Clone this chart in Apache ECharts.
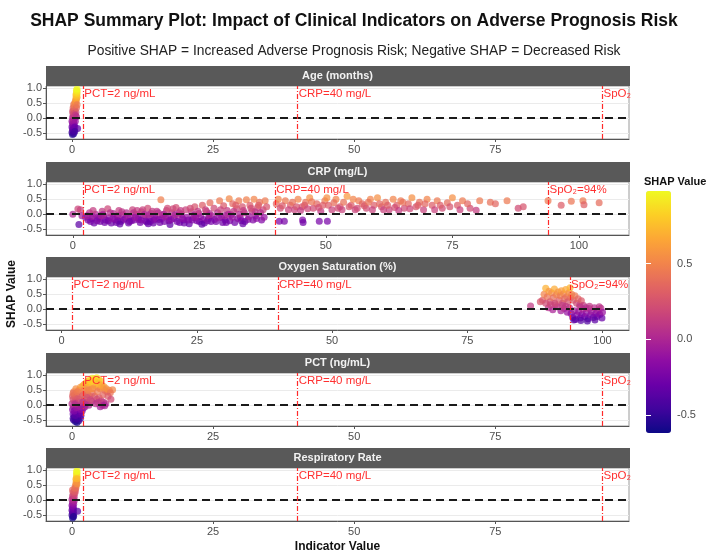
<!DOCTYPE html>
<html>
<head>
<meta charset="utf-8">
<script src="https://cdn.jsdelivr.net/npm/echarts@6/dist/echarts.min.js"></script>
<style>
  html, body { margin: 0; padding: 0; background: #fff; }
  #chart { width: 708px; height: 559px; }
</style>
</head>
<body>
<div id="chart"></div>
<script>
// facet titles, top to bottom
const panelNames = ['Age (months)', 'CRP (mg/L)', 'Oxygen Saturation (%)', 'PCT (ng/mL)', 'Respiratory Rate'];

// x ranges per facet (free x scales)
const xMins = [-4.6, -5.3, -2.9, -4.6, -4.6];
const xMaxs = [98.7, 109.9, 104.9, 98.7, 98.7];
const xTicks = [[0, 25, 50, 75], [0, 25, 50, 75, 100], [0, 25, 50, 75, 100], [0, 25, 50, 75], [0, 25, 50, 75]];
const yTicks = [-0.5, 0, 0.5, 1.0];
const legendTicks = [-0.5, 0, 0.5];

// clinical thresholds drawn in every facet
const thresholdValues = [2, 40, 94];
const thresholdLabels = ['PCT=2 ng/mL', 'CRP=40 mg/L', 'SpO₂=94%'];

// [indicator value, SHAP value]
const ageData = [
  [0.1,-0.55],[0.3,-0.52],[0.0,-0.48],[0.2,-0.45],[0.4,-0.42],[0.1,-0.38],[0.3,-0.33],[0.0,-0.3],
  [0.2,-0.26],[0.4,-0.22],[0.1,-0.18],[0.3,-0.14],[0.0,-0.1],[0.2,-0.06],[0.4,-0.02],[0.1,0.02],
  [0.3,0.06],[0.5,0.1],[0.2,0.14],[0.4,0.18],[0.1,0.22],[0.3,0.26],[0.5,0.3],[0.2,0.34],
  [0.4,0.38],[0.6,0.42],[0.3,0.46],[0.5,0.5],[0.7,0.54],[0.6,0.58],[0.8,0.62],[0.7,0.66],
  [0.9,0.7],[0.8,0.74],[0.7,0.78],[0.9,0.82],[0.8,0.86],[0.9,0.9],[0.8,0.94],[0.9,0.98],[1.0,-0.35],
  [0.7,0.2],[0.8,0.35],[0.9,0.45],[0.6,0.1],[0.8,0.05],[0.6,-0.1],[0.5,-0.3],[0.5,-0.45]
];

const crpData = [
  [0.0,0.0],[1.2,-0.35],[1.0,0.17],[1.5,0.15],[1.8,-0.05],
  [2.5,-0.1],[3.0,-0.2],[3.3,0.05],[3.8,-0.15],[4.2,-0.3],[4.5,0.0],[5.0,-0.1],[5.4,-0.25],
  [5.8,0.1],[6.1,-0.05],[6.5,-0.2],[6.9,0.18],[7.2,-0.12],[7.6,-0.3],[8.0,0.02],[8.3,-0.18],
  [8.8,-0.08],[9.1,0.12],[9.5,-0.25],[9.9,-0.02],[10.3,-0.15],[10.6,0.05],[11.0,-0.3],[11.4,-0.1],
  [11.8,0.15],[12.1,-0.2],[12.5,0.0],[12.9,-0.12],[13.3,-0.28],[13.6,0.08],[14.0,-0.05],[14.4,-0.22],
  [14.8,0.2],[15.1,-0.15],[15.5,0.02],[15.9,-0.3],[16.2,-0.08],[16.6,0.1],[17.0,-0.18],[17.4,0.48],
  [17.7,-0.02],[18.1,-0.25],[18.5,0.12],[18.9,-0.1],[19.2,-0.35],[19.6,0.05],[20.0,-0.15],[20.4,0.22],
  [20.8,-0.05],[21.1,-0.28],[21.5,0.0],[21.9,-0.2],[22.3,0.15],[22.6,-0.1],[23.0,-0.32],[23.4,0.08],
  [23.8,-0.12],[24.1,0.25],[24.5,-0.22],[24.9,0.02],[25.3,-0.08],[25.6,0.3],[26.0,-0.3],[26.4,0.1],
  [26.8,-0.15],[27.1,0.38],[27.5,-0.05],[27.9,0.2],[28.3,-0.25],[28.6,0.05],[29.0,0.45],[29.4,-0.1],
  [29.8,0.28],[30.1,-0.2],[30.5,0.12],[30.9,0.52],[31.3,-0.02],[31.6,0.35],[32.0,-0.28],[32.4,0.18],
  [32.8,0.45],[33.1,-0.12],[33.5,0.25],[33.9,0.05],[34.3,0.48],[34.6,-0.18],[35.0,0.3],[35.4,0.1],
  [35.8,0.5],[36.1,-0.05],[36.5,0.22],[36.9,0.4],[37.3,-0.2],[37.6,0.15],[38.0,0.45],
  [3.5,-0.25],[5.2,-0.15],[7.0,-0.22],[8.6,-0.28],[10.0,-0.2],[11.6,-0.22],[13.0,-0.18],[14.6,-0.26],
  [16.0,-0.2],[17.6,-0.15],[19.0,-0.22],[20.6,-0.25],[22.0,-0.3],[23.6,-0.2],[25.0,-0.25],[26.6,-0.22],
  [28.0,-0.18],[29.6,-0.28],[31.0,-0.22],[32.6,-0.15],[34.0,-0.25],[35.6,-0.2],[6.0,0.0],[9.0,-0.05],
  [12.0,0.05],[15.0,-0.02],[18.0,0.0],[21.0,0.05],[24.0,-0.03],[27.0,0.02],[30.0,-0.05],[33.0,0.0],
  [36.0,0.08],[4.0,0.12],[13.8,0.15],[19.8,0.18],[26.2,0.15],[31.8,0.1],
  [2.8,-0.05],[3.9,-0.08],[4.8,-0.22],[5.6,-0.05],[6.3,-0.28],[7.4,0.05],[7.9,-0.15],[8.9,-0.22],
  [9.7,0.08],[10.8,-0.08],[11.2,-0.25],[12.3,-0.1],[12.7,0.12],[13.5,-0.2],[14.2,0.0],[15.3,-0.25],
  [15.7,0.1],[16.4,-0.15],[16.9,0.05],[17.2,-0.28],[18.3,-0.08],[18.7,0.2],[19.4,-0.18],[20.2,-0.02],
  [21.3,0.12],[21.7,-0.15],[22.8,-0.2],[23.2,0.2],[24.3,-0.1],[24.7,0.1],[25.8,-0.18],[26.9,-0.05],
  [27.3,-0.25],[28.8,-0.12],[29.2,0.15],[30.3,-0.28],[30.7,0.0],[31.5,-0.1],[32.2,0.3],[33.3,-0.22],
  [33.7,0.12],[34.8,-0.08],[35.2,0.2],[36.3,-0.15],[36.7,0.3],[37.1,0.05],[37.8,-0.1],[38.3,0.25],
  [14.9,-0.32],[9.3,-0.33],[25.5,-0.34],[33.6,-0.32],
  [40.8,-0.24],[41.8,-0.24],[45.4,-0.2],[45.5,-0.28],[48.7,-0.24],[50.3,-0.24],
  [40.2,0.35],[41.0,0.2],[42.0,0.45],[43.0,0.3],[43.8,0.15],[44.5,0.5],[45.3,0.25],[46.0,0.4],
  [46.8,0.55],[47.5,0.2],[48.2,0.35],[49.0,0.1],[49.8,0.45],[50.5,0.3],[51.2,0.15],[52.0,0.5],
  [52.8,0.25],[53.5,0.4],[54.2,0.6],[55.0,0.3],[55.8,0.15],[56.5,0.45],[57.2,0.35],[58.0,0.2],
  [58.8,0.5],[59.5,0.3],[60.2,0.55],[61.0,0.25],[61.8,0.4],[62.5,0.15],[63.3,0.5],[64.0,0.3],
  [64.8,0.45],[65.5,0.2],[66.3,0.35],[67.0,0.55],[67.8,0.25],[68.5,0.4],[69.3,0.15],[70.0,0.5],
  [71.0,0.3],[72.0,0.45],[73.0,0.2],[74.0,0.38],[75.0,0.55],[76.0,0.3],[77.0,0.45],[78.5,0.2],
  [40.6,0.5],[41.4,0.28],[42.6,0.15],[43.4,0.4],[44.2,0.25],[45.0,0.12],[45.8,0.3],[46.4,0.18],
  [47.2,0.42],[48.6,0.22],[49.4,0.3],[50.2,0.55],[51.6,0.38],[52.4,0.2],[53.2,0.15],[54.6,0.25],
  [55.4,0.5],[56.2,0.2],[57.6,0.28],[58.4,0.4],[59.2,0.15],[60.6,0.35],[61.4,0.15],[62.2,0.3],
  [63.6,0.22],[64.4,0.12],[65.2,0.4],[66.6,0.18],[68.2,0.3],[69.6,0.35],[71.5,0.15],[72.6,0.3],
  [74.5,0.25],[76.5,0.15],[78.0,0.35],
  [80.4,0.45],[79.7,0.13],[82.5,0.4],[83.5,0.35],[85.8,0.45],[88.0,0.2],[89.0,0.25],
  [93.9,0.45],[96.5,0.3],[98.5,0.43],[100.8,0.45],[101.0,0.32],[104.0,0.38]
];

const oxygenData = [
  [86.7,0.11],
  [88.9,0.3],[89.2,0.5],[89.5,0.7],[89.8,0.42],[90.1,0.6],[90.3,0.25],[90.6,0.55],[90.9,0.38],
  [91.1,0.68],[91.3,0.15],[91.5,0.48],[91.8,0.58],[92.0,0.3],[92.2,0.45],[92.4,0.62],[92.6,0.2],
  [92.8,0.52],[93.0,0.35],[93.2,0.66],[93.4,0.42],[93.6,0.25],[93.8,0.55],[94.0,0.72],[94.1,0.38],
  [94.3,0.5],[94.6,0.3],[94.9,0.45],[95.2,0.2],[95.5,0.35],[95.8,0.15],[96.1,0.28],[96.5,0.12],
  [90.0,0.05],[90.8,-0.02],[91.6,0.08],[92.3,-0.05],[92.9,0.02],[93.5,-0.1],[93.9,0.05],[94.2,-0.15],
  [94.5,-0.28],[94.8,-0.05],[95.0,-0.35],[95.3,-0.2],[95.6,-0.08],[95.9,-0.3],[96.2,-0.18],[96.4,0.0],
  [96.7,-0.25],[97.0,-0.12],[97.3,-0.32],[97.5,0.02],[97.8,-0.2],[98.0,-0.08],[98.3,-0.28],[98.5,0.05],
  [98.8,-0.15],[99.0,-0.25],[99.2,-0.05],[99.5,-0.18],[99.7,0.03],[99.9,-0.3],[100.0,-0.1],[96.0,-0.38],
  [97.2,-0.4],[98.6,-0.36],[94.7,-0.36],[95.8,0.08],[97.6,0.1],[96.9,0.05],[99.4,0.08],[93.2,0.1],
  [92.6,0.12],[91.2,0.2],[90.4,0.15],[89.5,0.2],[88.5,0.25]
];

const pctData = [
  [0.3,-0.5],[0.6,-0.55],[0.9,-0.58],[1.2,-0.52],[1.5,-0.45],[0.4,-0.4],[0.8,-0.42],[1.1,-0.38],
  [1.6,-0.35],[0.2,-0.3],[0.5,-0.28],[1.0,-0.25],[1.4,-0.22],[1.8,-0.2],[0.1,-0.15],[0.7,-0.12],
  [1.3,-0.1],[0.3,-0.05],[0.9,-0.02],[1.7,0.0],[0.0,0.05],[0.5,0.1],[1.1,0.12],[0.2,0.2],
  [0.6,0.25],[0.1,0.3],[0.4,0.35],[0.8,0.4],[0.3,0.45],[1.2,0.5],[0.7,0.55],[1.5,0.6],
  [1.9,0.65],[2.2,0.7],[2.5,0.75],[2.8,0.8],[3.2,0.85],[3.6,0.9],[4.0,0.88],[4.4,0.92],
  [4.8,0.85],[5.1,0.8],[3.0,0.6],[3.4,0.55],[3.8,0.7],[4.2,0.65],[4.6,0.6],[5.0,0.55],
  [5.4,0.6],[5.8,0.5],[6.2,0.45],[6.6,0.5],[7.2,0.52],[2.4,0.45],[2.8,0.35],[3.2,0.3],
  [3.6,0.4],[4.0,0.3],[4.4,0.2],[4.8,0.25],[5.2,0.15],[5.6,0.1],[6.0,0.05],[2.2,0.2],
  [2.6,0.1],[3.0,0.0],[3.5,0.12],[4.2,0.05],[5.0,-0.05],[5.4,0.0],[2.0,-0.1],[2.4,0.05],
  [0.2,-0.45],[0.7,-0.48],[1.0,-0.45],[1.3,-0.3],[0.6,-0.35],[1.6,-0.15],[0.4,-0.2],[0.8,-0.08],
  [1.5,-0.05],[0.6,0.05],[1.3,0.2],[0.9,0.3],[0.2,0.4],[1.0,0.45],[1.8,0.3],[2.1,0.5],
  [2.6,0.6],[3.0,0.75],[3.4,0.8],[3.9,0.82],[4.3,0.78],[4.7,0.72],[5.3,0.68],[5.7,0.62],
  [6.1,0.55],[6.8,0.42],[2.0,0.35],[2.9,0.5],[3.7,0.55],[4.5,0.45],[5.5,0.35],[6.4,0.3],
  [6.9,0.2],[2.7,0.25],[3.3,0.18],[4.6,0.1],[5.8,-0.02],[1.9,0.1],[2.3,-0.05]
];

const respData = [
  [0.1,-0.6],[0.2,-0.55],[0.0,-0.5],[0.3,-0.46],[0.1,-0.42],[0.2,-0.38],[0.0,-0.34],[0.3,-0.3],
  [0.1,-0.26],[0.2,-0.22],[0.0,-0.18],[0.3,-0.14],[0.1,-0.1],[0.2,-0.06],[0.4,-0.02],[0.0,0.02],
  [0.2,0.06],[0.4,0.1],[0.1,0.14],[0.3,0.18],[0.5,0.22],[0.2,0.26],[0.4,0.3],[0.1,0.34],
  [0.6,0.38],[0.7,0.42],[0.6,0.48],[0.8,0.52],[0.7,0.58],[0.8,0.62],[0.9,0.66],[0.7,0.7],
  [0.8,0.75],[0.9,0.8],[0.8,0.85],[0.9,0.9],[0.8,0.95],[0.9,0.99],[1.0,-0.37],
  [0.6,0.3],[0.5,0.4],[0.9,0.55],[0.9,0.72],[0.3,-0.55]
];

const panelData = [ageData, crpData, oxygenData, pctData, respData];

const plasma = ['#0d0887', '#41049d', '#6a00a8', '#8f0da4', '#b12a90', '#cc4778',
                '#e16462', '#f2844b', '#fca636', '#fcce25', '#f0f921'];

const FONT = 'Liberation Sans, Arial, sans-serif';
const tops = [86, 182, 277, 373, 468];
const PANEL_H = 53;
const LEFT = 46;
const WIDTH = 583;

const chart = echarts.init(document.getElementById('chart'), null, { renderer: 'canvas' });

const grids = [];
const xAxes = [];
const yAxes = [];
const series = [];
const graphics = [];

panelNames.forEach((name, i) => {
  grids.push({
    left: LEFT, width: WIDTH, top: tops[i], height: PANEL_H,
    show: true, borderColor: '#9a9a9a', borderWidth: 1, backgroundColor: '#fff'
  });
  xAxes.push({
    gridIndex: i, type: 'value', min: xMins[i], max: xMaxs[i],
    axisLine: { show: true, onZero: false, lineStyle: { color: '#555', width: 1 } },
    axisTick: { show: true, length: 3, customValues: xTicks[i], lineStyle: { color: '#555' } },
    axisLabel: { customValues: xTicks[i], color: '#4d4d4d', fontSize: 11, fontFamily: FONT, margin: 5 },
    splitLine: { show: false },
    name: i === 4 ? 'Indicator Value' : '',
    nameLocation: 'middle', nameGap: 20,
    nameTextStyle: { color: '#111', fontSize: 12, fontWeight: 'bold', fontFamily: FONT }
  });
  yAxes.push({
    gridIndex: i, type: 'value', min: -0.7, max: 1.08,
    axisLine: { show: true, onZero: false, lineStyle: { color: '#555', width: 1 } },
    axisTick: { show: true, length: 3, customValues: yTicks, lineStyle: { color: '#555' } },
    axisLabel: {
      customValues: yTicks, color: '#4d4d4d', fontSize: 11, fontFamily: FONT, margin: 4,
      formatter: v => v.toFixed(1)
    },
    splitLine: { show: true, lineStyle: { color: '#ebebeb', width: 1 } }
  });

  const clipSpO2 = xMaxs[i] < 100;
  series.push({
    type: 'scatter',
    xAxisIndex: i, yAxisIndex: i,
    data: panelData[i],
    symbolSize: 7,
    itemStyle: { opacity: 0.72 },
    markLine: {
      silent: true, symbol: 'none', animation: false,
      label: { show: false },
      data: [
        { yAxis: 0, lineStyle: { color: '#1a1a1a', type: [8, 5], width: 1.8 } },
        ...thresholdValues.map(v => ({
          xAxis: v, lineStyle: { color: '#ff2a2a', type: [5, 2, 1, 2], width: 1.2 }
        }))
      ]
    },
    markPoint: {
      silent: true, symbol: 'circle', symbolSize: 0, animation: false,
      data: thresholdValues.map((v, k) => ({
        coord: [v, 0.83],
        label: {
          show: true, position: 'right', distance: 1,
          formatter: thresholdLabels[k],
          color: '#ff3030', fontSize: 11.5, fontFamily: FONT,
          ...(k === 2 && clipSpO2 ? { width: 29, overflow: 'truncate', ellipsis: '' } : {})
        }
      }))
    }
  });

  graphics.push({
    type: 'rect', left: LEFT, top: tops[i] - 20,
    shape: { width: WIDTH + 1, height: 20 },
    style: { fill: '#595959' }, z: 10
  });
  graphics.push({
    type: 'text', x: LEFT + WIDTH / 2, y: tops[i] - 10,
    style: {
      text: name, fill: '#f2f2f2', font: 'bold 11px ' + FONT,
      textAlign: 'center', textVerticalAlign: 'middle'
    }, z: 11
  });
});

// colour bar axis (ticks and labels beside the visualMap bar)
grids.push({ left: 646, width: 25, top: 191, height: 242, show: false });
xAxes.push({ gridIndex: 5, type: 'value', show: false, min: 0, max: 1 });
yAxes.push({
  gridIndex: 5, type: 'value', min: -0.62, max: 0.98, position: 'right', z: 10,
  axisLine: { show: false },
  axisTick: { show: true, inside: true, length: 5, customValues: legendTicks, lineStyle: { color: '#fff', width: 1 } },
  axisLabel: { customValues: legendTicks, color: '#4d4d4d', fontSize: 11, fontFamily: FONT, margin: 6,
               formatter: v => v.toFixed(1) },
  splitLine: { show: false }
});
yAxes.push({
  gridIndex: 5, type: 'value', min: -0.62, max: 0.98, position: 'left', z: 10,
  axisLine: { show: false },
  axisTick: { show: true, inside: true, length: 5, customValues: legendTicks, lineStyle: { color: '#fff', width: 1 } },
  axisLabel: { show: false },
  splitLine: { show: false }
});
series.push({ type: 'scatter', xAxisIndex: 5, yAxisIndex: 5, data: [], silent: true });

graphics.push({
  type: 'text', x: 12, y: 294, rotation: Math.PI / 2,
  style: {
    text: 'SHAP Value', fill: '#111', font: 'bold 12px ' + FONT,
    textAlign: 'center', textVerticalAlign: 'middle'
  }
});
graphics.push({
  type: 'text', x: 644, y: 182,
  style: {
    text: 'SHAP Value', fill: '#111', font: 'bold 11px ' + FONT,
    textAlign: 'left', textVerticalAlign: 'middle'
  }
});

const option = {
  backgroundColor: '#fff',
  animation: false,
  title: [
    {
      text: 'SHAP Summary Plot: Impact of Clinical Indicators on Adverse Prognosis Risk',
      left: 'center', top: 7,
      textStyle: { fontSize: 17.5, fontWeight: 'bold', color: '#111', fontFamily: FONT }
    },
    {
      text: 'Positive SHAP = Increased Adverse Prognosis Risk; Negative SHAP = Decreased Risk',
      left: 'center', top: 39,
      textStyle: { fontSize: 13.8, fontWeight: 'normal', color: '#222', fontFamily: FONT }
    }
  ],
  grid: grids,
  xAxis: xAxes,
  yAxis: yAxes,
  visualMap: {
    type: 'continuous',
    seriesIndex: [0, 1, 2, 3, 4],
    dimension: 1,
    min: -0.62, max: 0.98,
    calculable: false,
    left: 646, top: 191, padding: 0,
    itemWidth: 25, itemHeight: 242,
    text: null,
    showLabel: false,
    inRange: { color: plasma }
  },
  graphic: graphics,
  series: series
};

chart.setOption(option);
</script>
</body>
</html>
